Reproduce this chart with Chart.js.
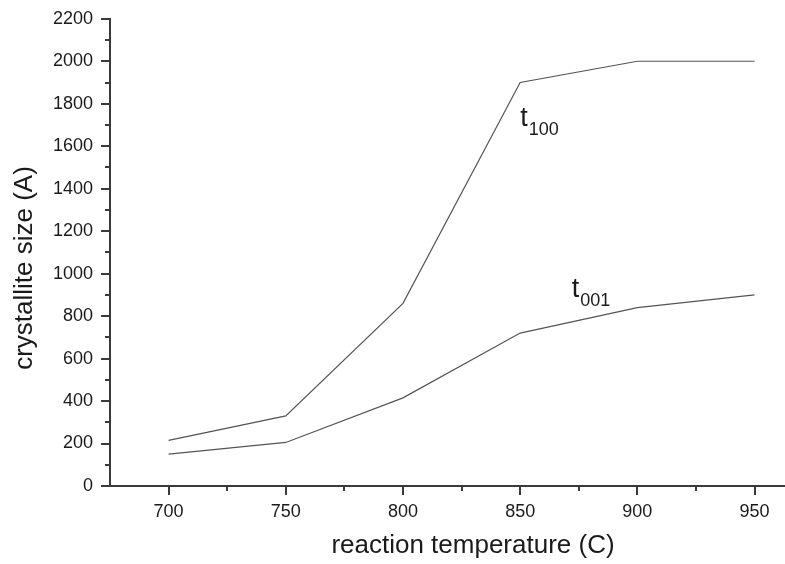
<!DOCTYPE html>
<html>
<head>
<meta charset="utf-8">
<script src="https://cdn.jsdelivr.net/npm/chart.js@4.4.1/dist/chart.umd.min.js"></script>
<style>
  html, body { margin: 0; padding: 0; background: #fff; }
  canvas { display: block; }
</style>
</head>
<body>
<canvas id="crystal" width="785" height="564"></canvas>
<script>
// reaction temperature (C)
let temperatures = [700, 750, 800, 850, 900, 950]
// crystallite size (A)
let t100 = [215, 330, 860, 1900, 2000, 2000]
let t001 = [150, 205, 415, 720, 840, 900]

let xTicks = [700, 750, 800, 850, 900, 950]
let xMinor = [725, 775, 825, 875, 925]
let yTicks = [0, 200, 400, 600, 800, 1000, 1200, 1400, 1600, 1800, 2000, 2200]
let yMinor = [100, 300, 500, 700, 900, 1100, 1300, 1500, 1700, 1900, 2100]

const family = "'Liberation Sans', Arial, Helvetica, sans-serif"
const axisColor = '#3a3a3a'
const lineColor = '#555'

// curve labels, placed in data units
const curveLabels = [
  { main: 't', sub: '100', x: 850, y: 1696 },
  { main: 't', sub: '001', x: 872, y: 892 }
]

function toPoints(ys) {
  return temperatures.map((t, i) => ({ x: t, y: ys[i] }))
}

const extras = {
  id: 'extras',
  afterDraw(chart) {
    const c = chart.ctx
    const area = chart.chartArea
    const xs = chart.scales.x
    const ys = chart.scales.y
    c.save()

    // minor ticks
    c.strokeStyle = axisColor
    c.lineWidth = 2
    c.beginPath()
    xMinor.forEach(v => {
      const px = Math.round(xs.getPixelForValue(v))
      c.moveTo(px, area.bottom)
      c.lineTo(px, area.bottom + 5)
    })
    yMinor.forEach(v => {
      const py = Math.round(ys.getPixelForValue(v))
      c.moveTo(area.left, py)
      c.lineTo(area.left - 5, py)
    })
    c.stroke()

    // axis titles
    c.fillStyle = '#1a1a1a'
    c.font = '26px ' + family
    c.textAlign = 'center'
    c.textBaseline = 'alphabetic'
    c.fillText('reaction temperature (C)', 473, 553)
    c.save()
    c.translate(32, 268)
    c.rotate(-Math.PI / 2)
    c.fillText('crystallite size (A)', 0, 0)
    c.restore()

    // t100 / t001 labels
    c.textAlign = 'left'
    curveLabels.forEach(l => {
      const px = xs.getPixelForValue(l.x)
      const py = ys.getPixelForValue(l.y)
      c.font = '27px ' + family
      c.fillText(l.main, px, py)
      const w = c.measureText(l.main).width
      c.font = '18px ' + family
      c.fillText(l.sub, px + w + 1, py + 9)
    })
    c.restore()
  }
}

let ctx = document.getElementById('crystal')
let chart = new Chart(ctx, {
  type: 'line',
  data: {
    datasets: [
      {
        label: 't100',
        data: toPoints(t100),
        borderColor: lineColor,
        borderWidth: 1.2,
        pointRadius: 0,
        tension: 0,
        fill: false
      },
      {
        label: 't001',
        data: toPoints(t001),
        borderColor: lineColor,
        borderWidth: 1.2,
        pointRadius: 0,
        tension: 0,
        fill: false
      }
    ]
  },
  options: {
    responsive: false,
    animation: false,
    events: [],
    layout: { padding: { top: 15, right: 0, left: 0, bottom: 0 } },
    plugins: {
      legend: { display: false },
      tooltip: { enabled: false }
    },
    scales: {
      x: {
        type: 'linear',
        min: 675,
        max: 963,
        afterBuildTicks: s => { s.ticks = xTicks.map(v => ({ value: v })) },
        afterFit: s => { s.height = 78 },
        border: { color: axisColor, width: 2 },
        grid: { drawOnChartArea: false, drawTicks: true, tickLength: 9, color: axisColor, lineWidth: 2 },
        ticks: {
          font: { family: family, size: 18 }, color: '#1a1a1a', padding: 6, maxRotation: 0,
          callback: v => String(v)
        }
      },
      y: {
        type: 'linear',
        min: 0,
        max: 2200,
        afterBuildTicks: s => { s.ticks = yTicks.map(v => ({ value: v })) },
        afterFit: s => { s.width = 110 },
        border: { color: axisColor, width: 2 },
        grid: { drawOnChartArea: false, drawTicks: true, tickLength: 9, color: axisColor, lineWidth: 2 },
        ticks: {
          font: { family: family, size: 18 }, color: '#1a1a1a', padding: 8,
          callback: v => String(v)
        }
      }
    }
  },
  plugins: [extras]
})
</script>
</body>
</html>
